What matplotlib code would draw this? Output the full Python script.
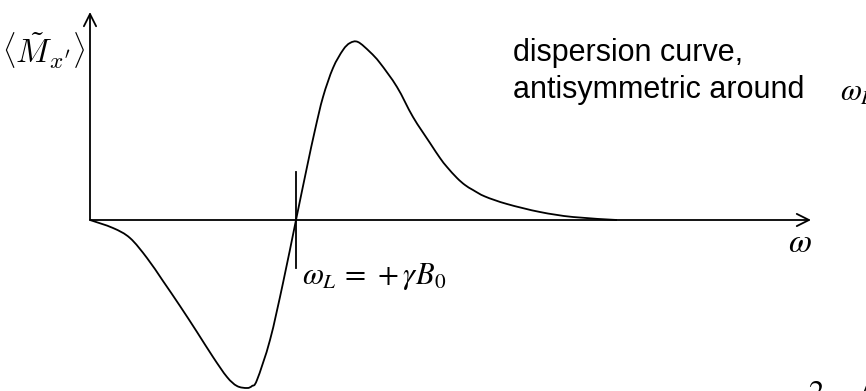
import matplotlib
matplotlib.use("Agg")
import matplotlib.pyplot as plt
import numpy as np
from matplotlib.path import Path
from matplotlib.patches import PathPatch

# dispersion signal read along the frequency axis (origin at the axes corner)
omega = [0, 23, 40, 57, 73, 90, 107, 123, 137, 147, 157, 162, 167, 180, 193, 206,
         217, 225, 233, 243, 253, 260, 268, 280, 290, 307, 323, 340, 350, 357, 367,
         375, 383, 395, 417, 450, 483, 527]
m_x = [0, -8, -18, -38, -61, -86, -112, -137, -157, -166, -168, -166, -160, -120, -63, 0,
       53, 90, 123, 152, 170, 177, 178, 168, 157, 133, 103, 77, 62, 53, 42,
       35, 30, 23.5, 16, 8, 3, 0]

omega_L = 206          # Larmor frequency, zero crossing
x_end = 721            # end of the omega axis
y_top = 208            # end of the signal axis
marker_half = 48       # half length of the marker at omega_L


def smooth_path(x, y):
    # Catmull-Rom through the points, drawn as cubic Bezier segments
    p = np.column_stack([x, y]).astype(float)
    p = np.vstack([p[0], p, p[-1]])
    verts = [p[1]]
    codes = [Path.MOVETO]
    for i in range(1, len(p) - 2):
        c1 = p[i] + (p[i + 1] - p[i - 1]) / 6
        c2 = p[i + 1] - (p[i + 2] - p[i]) / 6
        verts += [c1, c2, p[i + 1]]
        codes += [Path.CURVE4] * 3
    return Path(verts, codes)


fig = plt.figure(figsize=(8.66, 3.91), dpi=100)
ax = fig.add_axes([0, 0, 1, 1])
ax.set_xlim(-90, 776)
ax.set_ylim(-171, 220)
ax.axis('off')

arrow = dict(arrowstyle='->', color='black', lw=1.3, mutation_scale=22,
             shrinkA=0, shrinkB=0)
ax.annotate('', xy=(x_end, 0), xytext=(0, 0), arrowprops=arrow)
ax.annotate('', xy=(0, y_top), xytext=(0, 0), arrowprops=arrow)

ax.add_patch(PathPatch(smooth_path(omega, m_x), facecolor='none',
                       edgecolor='black', lw=1.3, joinstyle='round'))
ax.plot([omega_L, omega_L], [-marker_half, marker_half], color='black', lw=1.3)

ax.text(-46, 170, r"$\left\langle \tilde{M}_{x'} \right\rangle$", fontsize=24,
        ha='center', va='center', math_fontfamily='cm')
ax.text(710, -23, r"$\omega$", fontsize=24, ha='center', va='center',
        math_fontfamily='stix')
ax.text(212, -57, r"$\omega_L\,=\,+\gamma B_0$", fontsize=22, ha='left', va='center',
        math_fontfamily='stix')

ax.text(423, 167, "dispersion curve,", fontsize=22, family='Liberation Sans',
        ha='left', va='center')
ax.text(423, 130, "antisymmetric around", fontsize=22, family='Liberation Sans',
        ha='left', va='center')
ax.text(750, 128, r"$\omega_L$", fontsize=22, ha='left', va='center',
        math_fontfamily='stix')

# start of the next formula, running off the bottom edge
ax.text(718, -181, r"$2$", fontsize=22, ha='left', va='baseline',
        math_fontfamily='stix')
ax.text(751, -152, r"$\sqrt{\ \ }$", fontsize=22, ha='left', va='top',
        math_fontfamily='stix')

fig.savefig("out.png", dpi=100)
